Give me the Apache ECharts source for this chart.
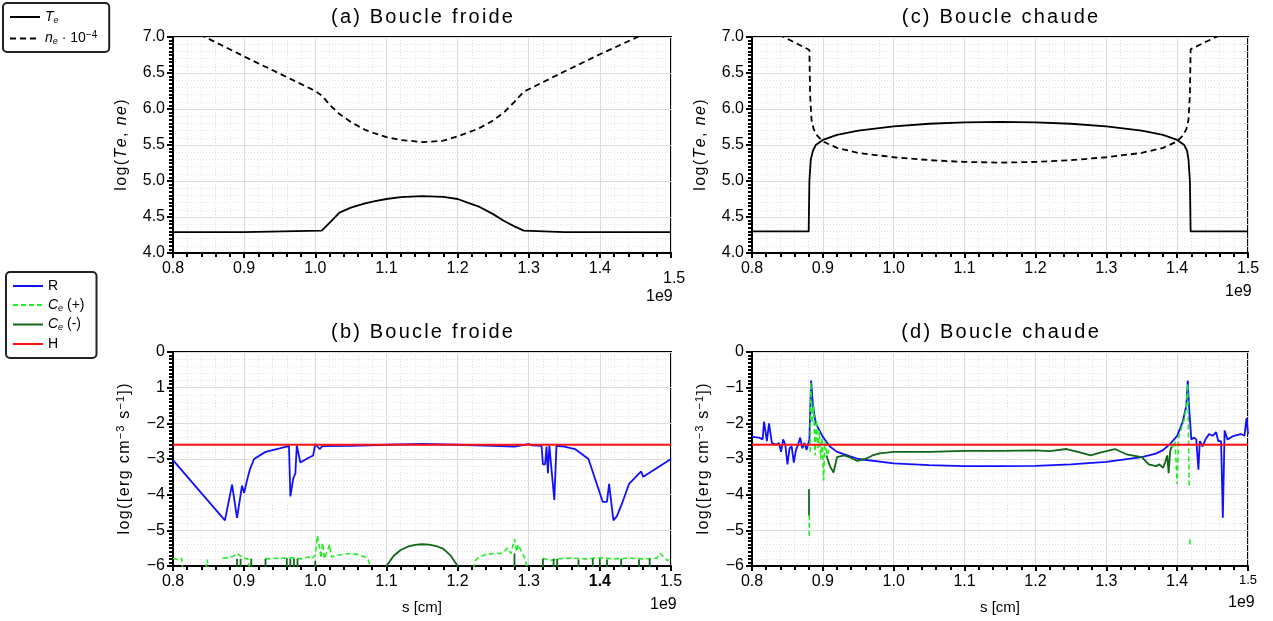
<!DOCTYPE html>
<html>
<head>
<meta charset="utf-8">
<script src="https://cdn.jsdelivr.net/npm/echarts@6/dist/echarts.min.js"></script>
<style>
html,body{margin:0;padding:0;background:#fff;}
#chart{width:1273px;height:621px;}
</style>
</head>
<body>
<div id="chart"></div>
<script>
// ---------- DATA (x in units of 1e9 cm) ----------
const xTicksTop = [0.8, 0.9, 1.0, 1.1, 1.2, 1.3, 1.4, 1.5];

// (a) cold loop
const coldTe = [[0.8,4.29],[0.9,4.29],[1.009,4.31],[1.02,4.42],[1.034,4.56],[1.05,4.63],[1.07,4.69],[1.084,4.72],[1.10,4.75],[1.12,4.775],[1.15,4.79],[1.18,4.78],[1.20,4.75],[1.22,4.68],[1.231,4.64],[1.25,4.54],[1.266,4.44],[1.28,4.37],[1.293,4.31],[1.35,4.29],[1.5,4.29]];
const coldNe = [[0.8,7.22],[0.845,7.0],[0.9,6.73],[1.0,6.25],[1.01,6.18],[1.02,6.06],[1.034,5.93],[1.05,5.82],[1.07,5.71],[1.084,5.66],[1.10,5.61],[1.12,5.57],[1.152,5.54],[1.18,5.56],[1.20,5.62],[1.23,5.73],[1.25,5.84],[1.266,5.96],[1.28,6.1],[1.293,6.24],[1.35,6.52],[1.40,6.76],[1.453,7.0],[1.5,7.22]];

// (c) hot loop
const hotTe = [[0.8,4.3],[0.88,4.3],[0.881,5.0],[0.883,5.3],[0.886,5.42],[0.89,5.5],[0.9,5.57],[0.92,5.64],[0.95,5.7],[1.0,5.76],[1.05,5.795],[1.1,5.815],[1.15,5.82],[1.2,5.815],[1.25,5.795],[1.3,5.76],[1.35,5.7],[1.38,5.64],[1.40,5.57],[1.41,5.5],[1.414,5.42],[1.416,5.3],[1.418,5.0],[1.419,4.3],[1.5,4.3]];
const hotNe = [[0.8,7.22],[0.845,7.0],[0.881,6.82],[0.882,6.2],[0.884,5.85],[0.887,5.72],[0.892,5.63],[0.9,5.55],[0.92,5.46],[0.95,5.39],[1.0,5.33],[1.05,5.29],[1.1,5.265],[1.15,5.255],[1.2,5.265],[1.25,5.29],[1.3,5.33],[1.35,5.39],[1.38,5.46],[1.40,5.55],[1.408,5.63],[1.413,5.72],[1.416,5.85],[1.418,6.2],[1.419,6.83],[1.455,7.0],[1.5,7.2]];

// (b) cold loop energy terms
const coldR = [[0.8,-3.03],[0.873,-4.72],[0.883,-3.72],[0.89,-4.65],[0.897,-3.75],[0.9,-3.95],[0.904,-3.6],[0.908,-3.3],[0.914,-3.0],[0.93,-2.8],[0.95,-2.7],[0.963,-2.63],[0.965,-4.05],[0.969,-3.55],[0.972,-3.4],[0.974,-2.62],[0.979,-3.1],[0.99,-2.97],[0.997,-2.9],[1.0,-2.58],[1.006,-2.72],[1.01,-2.64],[1.05,-2.63],[1.1,-2.6],[1.15,-2.58],[1.2,-2.6],[1.25,-2.63],[1.28,-2.65],[1.3,-2.58],[1.305,-2.62],[1.318,-2.63],[1.32,-3.15],[1.323,-3.15],[1.325,-2.65],[1.327,-3.4],[1.329,-2.63],[1.336,-4.15],[1.339,-2.63],[1.35,-2.65],[1.365,-2.72],[1.384,-3.0],[1.404,-4.2],[1.41,-4.2],[1.413,-3.7],[1.419,-4.72],[1.424,-4.6],[1.432,-4.2],[1.441,-3.7],[1.458,-3.35],[1.461,-3.5],[1.5,-3.0]];
const coldCePos = [[0.8,-5.78],[0.806,-5.82],[0.812,-5.78],[0.815,-6.3],[0.845,'-'],[0.845,-6.3],[0.848,-5.82],[0.851,-6.3],[0.87,'-'],[0.87,-5.78],[0.88,-5.77],[0.885,-5.72],[0.89,-5.65],[0.895,-5.72],[0.9,-5.78],[0.905,-5.8],[0.91,-6.3],[0.93,'-'],[0.93,-5.8],[0.95,-5.78],[0.97,-5.77],[0.98,-5.8],[0.99,-5.75],[0.995,-5.8],[1.0,-5.7],[1.003,-5.15],[1.006,-5.5],[1.008,-5.78],[1.01,-5.35],[1.013,-5.8],[1.02,-5.4],[1.023,-5.75],[1.03,-5.7],[1.04,-5.67],[1.05,-5.65],[1.06,-5.68],[1.07,-5.75],[1.075,-5.85],[1.08,-6.3],[1.22,'-'],[1.22,-6.3],[1.225,-5.85],[1.23,-5.75],[1.24,-5.68],[1.25,-5.65],[1.26,-5.65],[1.265,-5.6],[1.27,-5.5],[1.275,-5.65],[1.28,-5.25],[1.283,-5.6],[1.285,-5.4],[1.29,-5.6],[1.295,-5.8],[1.3,-6.3],[1.32,'-'],[1.32,-5.78],[1.33,-5.85],[1.34,-5.8],[1.36,-5.78],[1.38,-5.8],[1.40,-5.77],[1.42,-5.8],[1.44,-5.78],[1.46,-5.8],[1.48,-5.78],[1.485,-5.65],[1.49,-5.75],[1.495,-5.85],[1.5,-5.8]];
const coldCeNeg = [[0.89,-6.3],[0.89,-5.8],[0.893,'-'],[0.895,-6.3],[0.895,-5.8],[0.897,'-'],[0.91,-6.3],[0.91,-5.8],[0.912,'-'],[0.93,-6.3],[0.93,-5.8],[0.932,'-'],[0.96,-6.3],[0.96,-5.78],[0.962,'-'],[0.965,-6.3],[0.965,-5.8],[0.967,'-'],[0.97,-6.3],[0.97,-5.8],[0.972,'-'],[0.975,-6.3],[0.975,-5.8],[0.977,'-'],[1.0,-6.3],[1.0,-5.85],[1.002,'-'],[1.1,-6.3],[1.1,-6.0],[1.11,-5.72],[1.12,-5.55],[1.13,-5.46],[1.14,-5.41],[1.15,-5.39],[1.16,-5.4],[1.17,-5.44],[1.18,-5.52],[1.19,-5.7],[1.2,-6.0],[1.2,-6.3],[1.22,'-'],[1.28,-6.3],[1.28,-5.65],[1.282,'-'],[1.32,-6.3],[1.32,-5.8],[1.322,'-'],[1.335,-6.3],[1.335,-5.8],[1.337,'-'],[1.34,-6.3],[1.34,-5.8],[1.342,'-'],[1.37,-6.3],[1.37,-5.82],[1.372,'-'],[1.39,-6.3],[1.39,-5.8],[1.392,'-'],[1.40,-6.3],[1.40,-5.8],[1.402,'-'],[1.41,-6.3],[1.41,-5.82],[1.412,'-'],[1.43,-6.3],[1.43,-5.8],[1.432,'-'],[1.455,-6.3],[1.455,-5.82],[1.457,'-'],[1.47,-6.3],[1.47,-5.8]];

// (d) hot loop energy terms
const hotR = [[0.8,-2.38],[0.81,-2.4],[0.815,-2.45],[0.817,-1.95],[0.821,-2.5],[0.824,-2.0],[0.828,-2.55],[0.834,-2.6],[0.838,-2.55],[0.841,-2.8],[0.844,-2.45],[0.847,-2.6],[0.85,-3.15],[0.853,-2.7],[0.856,-2.65],[0.859,-3.1],[0.862,-2.75],[0.865,-2.6],[0.868,-2.4],[0.871,-2.7],[0.874,-2.55],[0.877,-2.75],[0.879,-2.6],[0.881,-2.45],[0.8834,-0.8],[0.886,-1.5],[0.89,-2.0],[0.9,-2.38],[0.91,-2.65],[0.92,-2.8],[0.95,-3.0],[1.0,-3.12],[1.05,-3.17],[1.1,-3.2],[1.15,-3.2],[1.2,-3.19],[1.25,-3.15],[1.3,-3.08],[1.35,-2.95],[1.37,-2.85],[1.38,-2.75],[1.39,-2.58],[1.40,-2.35],[1.408,-1.95],[1.413,-1.5],[1.415,-0.8],[1.417,-1.6],[1.42,-2.45],[1.424,-2.4],[1.427,-2.45],[1.43,-3.3],[1.432,-2.5],[1.436,-2.65],[1.44,-2.45],[1.445,-2.3],[1.45,-2.35],[1.455,-2.25],[1.458,-2.5],[1.462,-2.5],[1.4645,-4.65],[1.467,-2.2],[1.471,-2.45],[1.48,-2.35],[1.49,-2.3],[1.495,-2.35],[1.498,-1.85],[1.5,-2.3]];
const hotCePos = [[0.8808,-5.15],[0.8808,-4.55],[0.881,'-'],[0.882,-2.8],[0.883,-0.85],[0.885,-2.0],[0.887,-1.5],[0.889,-2.9],[0.891,-1.9],[0.893,-2.7],[0.895,-2.2],[0.897,-3.0],[0.899,-2.4],[0.901,-3.6],[0.903,-2.5],[0.906,-2.9],[0.909,-2.7],[0.91,'-'],[1.39,'-'],[1.393,-2.7],[1.397,-2.5],[1.4,-3.7],[1.402,-2.4],[1.405,-2.2],[1.408,-2.0],[1.41,-1.9],[1.413,-1.5],[1.415,-0.9],[1.417,-3.8],[1.418,'-'],[1.418,-5.25],[1.418,-5.45]];
const hotCeNeg = [[0.8805,-3.85],[0.8805,-4.6],[0.881,'-'],[0.905,-2.9],[0.91,-3.2],[0.915,-3.38],[0.92,-2.95],[0.93,-2.9],[0.94,-2.97],[0.948,-3.05],[0.96,-3.0],[0.97,-2.9],[0.98,-2.84],[1.0,-2.8],[1.05,-2.8],[1.1,-2.77],[1.15,-2.77],[1.2,-2.76],[1.22,-2.78],[1.244,-2.72],[1.26,-2.8],[1.278,-2.9],[1.29,-2.83],[1.312,-2.72],[1.33,-2.88],[1.35,-2.95],[1.36,-3.15],[1.37,-3.2],[1.375,-3.15],[1.38,-3.25],[1.383,-3.1],[1.386,-2.9],[1.388,-3.4],[1.39,-2.8],[1.392,-2.65]];

// constant heating
const heatingH = [[0.8,-2.6],[1.5,-2.6]];

const panelTitles = ['(a) Boucle froide','(b) Boucle froide','(c) Boucle chaude','(d) Boucle chaude'];

// ---------- LAYOUT ----------
const FONT = '"Liberation Sans", Arial, sans-serif';
const grids = [
  {left:173, top:37, width:498, height:216},
  {left:173, top:352, width:498, height:214},
  {left:752, top:37, width:496, height:216},
  {left:752, top:352, width:496, height:214}
];

// letter-spaced rich text: one token per character
function spaced(segs){
  return segs.map(function(s){
    return s[0].split('').map(function(ch){ return '{'+s[1]+'|'+ch+'}'; }).join('');
  }).join('');
}

function xAxisFor(i){
  const rich = {
    bo:{fontWeight:'bold', fontSize:16, color:'#000', fontFamily:FONT},
    sm:{fontSize:13, color:'#000', fontFamily:FONT}
  };
  return {
    type:'value', gridIndex:i, min:0.8, max:1.5, interval:0.1,
    name: (i===1||i===3) ? 's [cm]' : '',
    nameLocation:'middle', nameGap:34,
    nameTextStyle:{fontSize:15, color:'#000', fontFamily:FONT},
    axisLine:{show:true, onZero:false, lineStyle:{color:'#000', width:2}},
    axisTick:{show:true, inside:false, length:5, lineStyle:{color:'#000', width:2}},
    minorTick:{show:true, splitNumber:5, length:4, lineStyle:{color:'#000', width:2}},
    splitLine:{show:true, lineStyle:{color:'#dcdcdc', width:1}},
    minorSplitLine:{show:true, lineStyle:{color:'#e2e2e2', width:1, type:[1,2]}},
    axisLabel:{
      fontSize:16, color:'#000', fontFamily:FONT, margin:8,
      showMaxLabel: i!==0,
      rich:rich,
      formatter:function(v){
        const s = v.toFixed(1);
        if(i===1 && Math.abs(v-1.4)<1e-6) return '{bo|'+s+'}';
        if(i===3 && Math.abs(v-1.5)<1e-6) return '{sm|'+s+'}';
        return s;
      }
    }
  };
}

const yNameTop = spaced([['log(','n'],['Te','i'],[', ','n'],['ne','i'],[')','n']]);
const yNameBot = spaced([['log([erg cm','n'],['\u22123','sup'],[' s','n'],['\u22121','sup'],['])','n']]);
const nameRich = {
  n:{fontSize:16, color:'#000', fontFamily:FONT, padding:[0,0.7,0,0.7]},
  i:{fontStyle:'italic', fontSize:16, color:'#000', fontFamily:FONT, padding:[0,0.7,0,0.7]},
  sup:{fontSize:11, color:'#000', fontFamily:FONT, padding:[0,0.5,9,0.5]}
};

function yAxisMain(i){
  const top = (i===0||i===2);
  return {
    type:'value', gridIndex:i,
    min: top ? 4 : -6, max: top ? 7 : 0, interval: top ? 0.5 : 1,
    name: top ? yNameTop : yNameBot,
    nameLocation:'middle', nameGap: top ? 43 : 38,
    nameTextStyle:{fontSize:16, color:'#000', fontFamily:FONT, rich:nameRich},
    axisLine:{show:true, onZero:false, lineStyle:{color:'#000', width:2}},
    axisTick:{show:true, length:6, lineStyle:{color:'#000', width:2}},
    minorTick:{show:true, splitNumber:10, length:4, lineStyle:{color:'#000', width:2}},
    splitLine:{show:false},
    minorSplitLine:{show:false},
    axisLabel:{
      fontSize:16, color:'#000', fontFamily:FONT, margin:8,
      formatter:function(v){
        if(top) return v.toFixed(1);
        if(i===1 && Math.round(v)===-1) return '1';
        return v<0 ? '\u2212'+Math.abs(Math.round(v)) : String(Math.round(v));
      }
    }
  };
}
function yAxisGridLines(i){
  const top = (i===0||i===2);
  return {
    type:'value', gridIndex:i, position:'right',
    min: top ? 4 : -6, max: top ? 7 : 0, interval: top ? 0.5 : 1,
    axisLine:{show:false}, axisTick:{show:false}, axisLabel:{show:false},
    splitLine:{show:true, lineStyle:{color:'#dcdcdc', width:1}},
    minorTick:{show:false, splitNumber:5},
    minorSplitLine:{show:true, lineStyle:{color:'#e2e2e2', width:1, type:[1,2]}}
  };
}

function lineSeries(name, data, gi, color, width, dash, z){
  return {
    type:'line', name:name, xAxisIndex:gi, yAxisIndex:gi, data:data,
    showSymbol:false, symbol:'none', connectNulls:false, clip:true, animation:false,
    lineStyle:{color:color, width:width, type: dash || 'solid'},
    itemStyle:{color:color}, z: z||2
  };
}

const BLUE='#1010ff', LIME='#22ee22', DKGREEN='#11661a', RED='#ff1010';

const series = [
  lineSeries('Te', coldTe, 0, '#000', 1.8),
  lineSeries('ne', coldNe, 0, '#000', 1.8, [6,4]),
  lineSeries('Te', hotTe, 2, '#000', 1.8),
  lineSeries('ne', hotNe, 2, '#000', 1.8, [6,4]),
  lineSeries('R', coldR, 1, BLUE, 1.8, null, 3),
  lineSeries('Ce+', coldCePos, 1, LIME, 1.6, [5,3], 4),
  lineSeries('Ce-', coldCeNeg, 1, DKGREEN, 1.8, null, 4),
  lineSeries('H', heatingH, 1, RED, 2, null, 5),
  lineSeries('R', hotR, 3, BLUE, 1.8, null, 3),
  lineSeries('Ce+', hotCePos, 3, LIME, 1.6, [5,3], 5),
  lineSeries('Ce-', hotCeNeg, 3, DKGREEN, 1.8, null, 4),
  lineSeries('H', heatingH, 3, RED, 2, null, 6)
];

const legendRich = {
  n:{fontSize:14, color:'#000', fontFamily:FONT},
  i:{fontSize:14, fontStyle:'italic', color:'#000', fontFamily:FONT},
  sub:{fontSize:9, fontStyle:'italic', color:'#000', fontFamily:FONT, padding:[6,0,0,0]},
  sup:{fontSize:10, color:'#000', fontFamily:FONT, padding:[0,0,6,0]}
};
const legendText = {
  'Te':'{i|T}{sub|e}',
  'ne':'{i|n}{sub|e}{n| \u00b7 10}{sup|\u22124}',
  'R':'{n|R}',
  'Ce+':'{i|C}{sub|e}{n| (+)}',
  'Ce-':'{i|C}{sub|e}{n| (-)}',
  'H':'{n|H}'
};
function legendFor(names, left, top, gap, pad){
  return {
    show:true, orient:'vertical', left:left, top:top,
    data:names, itemWidth:30, itemHeight:10, itemGap:gap,
    padding:pad, borderColor:'#222', borderWidth:2, borderRadius:4,
    backgroundColor:'#fff',
    selectedMode:false,
    itemStyle:{opacity:0, borderWidth:0},
    textStyle:{fontSize:14, color:'#000', fontFamily:FONT, rich:legendRich},
    formatter:function(n){ return legendText[n]; }
  };
}

const titleRich = {t:{fontSize:20, color:'#000', fontFamily:FONT, padding:[0,1.1,0,1.1]}};
const titles = panelTitles.map(function(t, k){
  const cx = [422, 422, 1000, 1000][k];
  const ty = [7, 322, 7, 322][k];
  return {text:spaced([[t,'t']]), left:cx, top:ty, textAlign:'center', padding:0,
    textStyle:{fontSize:20, fontWeight:'normal', color:'#000', fontFamily:FONT, rich:titleRich}};
});

const option = {
  backgroundColor:'#fff',
  animation:false,
  title: titles,
  grid: grids.map(function(g){ return Object.assign({show:true, borderColor:'#000', borderWidth:2, backgroundColor:'transparent', containLabel:false}, g); }),
  xAxis: [0,1,2,3].map(xAxisFor),
  yAxis: [0,1,2,3].map(yAxisMain).concat([0,1,2,3].map(yAxisGridLines)),
  legend: [
    legendFor(['Te','ne'], 3, 3, 6, [7,12,6,6]),
    legendFor(['R','Ce+','Ce-','H'], 6, 272, 5, [7,12,7,6])
  ],
  series: series,
  graphic: [
    {type:'text', left:663, top:271, style:{text:xTicksTop[7].toFixed(1), fontSize:16, fill:'#000', fontFamily:FONT}},
    {type:'text', left:646, top:289, style:{text:'1e9', fontSize:16, fill:'#000', fontFamily:FONT}},
    {type:'text', left:1225, top:284, style:{text:'1e9', fontSize:16, fill:'#000', fontFamily:FONT}},
    {type:'text', left:650, top:597, style:{text:'1e9', fontSize:16, fill:'#000', fontFamily:FONT}},
    {type:'text', left:1228, top:595, style:{text:'1e9', fontSize:16, fill:'#000', fontFamily:FONT}}
  ]
};

const chart = echarts.init(document.getElementById('chart'), null, {renderer:'canvas', width:1273, height:621});
chart.setOption(option);
</script>
</body>
</html>
